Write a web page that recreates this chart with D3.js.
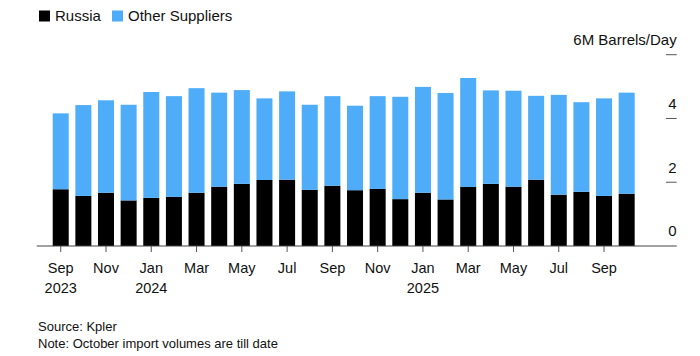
<!DOCTYPE html>
<html><head><meta charset="utf-8">
<script src="https://cdn.jsdelivr.net/npm/d3@7"></script>
<style>
html,body{margin:0;padding:0;background:#fff;}
svg text{font-family:"Liberation Sans",Arial,sans-serif;fill:#111;}
</style></head>
<body>
<svg id="chart" width="700" height="356"></svg>
<script>
const months = ["2023-09","2023-10","2023-11","2023-12","2024-01","2024-02","2024-03","2024-04","2024-05","2024-06","2024-07","2024-08","2024-09","2024-10","2024-11","2024-12","2025-01","2025-02","2025-03","2025-04","2025-05","2025-06","2025-07","2025-08","2025-09","2025-10"];
const russia = [1.78,1.57,1.67,1.43,1.51,1.54,1.67,1.86,1.95,2.07,2.08,1.76,1.89,1.75,1.79,1.47,1.67,1.46,1.85,1.95,1.86,2.08,1.61,1.70,1.57,1.64];
const others = [2.38,2.85,2.90,3.00,3.32,3.16,3.28,2.95,2.94,2.56,2.77,2.67,2.81,2.65,2.91,3.21,3.32,3.34,3.42,2.93,3.01,2.63,3.13,2.81,3.06,3.17];
const seriesNames = ["Russia","Other Suppliers"];
const colors = ["#000000","#4eacf8"];
const yTicks = [0,2,4,6];
const yUnitLabel = "M Barrels/Day";
const xTickLabels = {"2023-09":["Sep","2023"],"2023-11":["Nov"],"2024-01":["Jan","2024"],"2024-03":["Mar"],"2024-05":["May"],"2024-07":["Jul"],"2024-09":["Sep"],"2024-11":["Nov"],"2025-01":["Jan","2025"],"2025-03":["Mar"],"2025-05":["May"],"2025-07":["Jul"],"2025-09":["Sep"]};
const sourceText = "Source: Kpler";
const noteText = "Note: October import volumes are till date";

const svg = d3.select("#chart");
const rows = months.map((m,i)=>({month:m, Russia:russia[i], "Other Suppliers":others[i]}));
const stack = d3.stack().keys(seriesNames)(rows);

const x = d3.scaleBand().domain(months).range([49.4, 638]).paddingInner(0.293).paddingOuter(0.1465);
const y = d3.scaleLinear().domain([0,6]).range([246, 54.7]);

// bars
svg.append("g").selectAll("g").data(stack).join("g")
  .attr("fill",(d,i)=>colors[i])
  .selectAll("rect").data(d=>d).join("rect")
  .attr("x",d=>x(d.data.month))
  .attr("width",x.bandwidth())
  .attr("y",d=>y(d[1]))
  .attr("height",d=>y(d[0])-y(d[1]));

// right y axis ticks (short lines) with labels above
const yAxisX = 676.7;
const yAxis = d3.axisRight(y).tickValues(yTicks.filter(v=>v>0)).tickSize(0).tickFormat("");
const gy = svg.append("g");
gy.selectAll("line").data(yTicks.filter(v=>v>0)).join("line")
  .attr("x1",yAxisX-10.7).attr("x2",yAxisX)
  .attr("y1",d=>y(d)).attr("y2",d=>y(d))
  .attr("stroke","#555").attr("stroke-width",1);
gy.selectAll("text").data(yTicks).join("text")
  .attr("x",yAxisX).attr("y",d=>y(d)-9.7)
  .attr("text-anchor","end").attr("font-size","15px")
  .text(d=>d===6 ? d+yUnitLabel : d);

// x axis
const gx = svg.append("g").attr("transform","translate(0,246)");
gx.append("line").attr("x1",36.7).attr("x2",yAxisX).attr("y1",0).attr("y2",0).attr("stroke","#444").attr("stroke-width",1.2);
const tickMonths = months.filter(m=>xTickLabels[m]);
gx.selectAll("line.tick").data(tickMonths).join("line").attr("class","tick")
  .attr("x1",d=>x(d)+x.bandwidth()/2).attr("x2",d=>x(d)+x.bandwidth()/2)
  .attr("y1",0).attr("y2",6).attr("stroke","#555");
const lbl = gx.selectAll("text").data(tickMonths).join("text")
  .attr("text-anchor","middle").attr("font-size","14.5px")
  .attr("transform",d=>`translate(${x(d)+x.bandwidth()/2},0)`);
lbl.selectAll("tspan").data(d=>xTickLabels[d]).join("tspan")
  .attr("x",0).attr("y",(d,i)=>27.3+i*20).text(d=>d);

// legend
const leg = svg.append("g");
const legX = [39, 112];
seriesNames.forEach((n,i)=>{
  leg.append("rect").attr("x",legX[i]).attr("y",10.5).attr("width",11).attr("height",11).attr("fill",colors[i]);
  leg.append("text").attr("x",legX[i]+16).attr("y",21).attr("font-size","15px").text(n);
});

// footer
svg.append("text").attr("x",38).attr("y",331).attr("font-size","13px").text(sourceText);
svg.append("text").attr("x",38).attr("y",347.5).attr("font-size","13px").text(noteText);
</script>
</body></html>
